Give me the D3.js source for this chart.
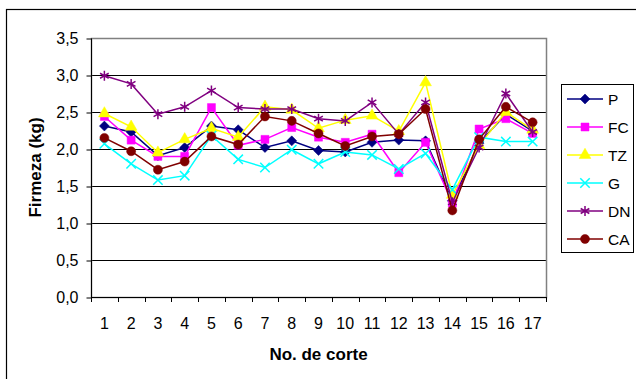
<!DOCTYPE html>
<html>
<head>
<meta charset="utf-8">
<script src="https://d3js.org/d3.v7.min.js"></script>
<style>
  body { margin: 0; background: #fff; }
  svg { display: block; font-family: "Liberation Sans", Arial, sans-serif; }
</style>
</head>
<body>
<svg width="636" height="379" class="line-chart"></svg>
<script>
  // categories and tick labels
  const cortes = ["1","2","3","4","5","6","7","8","9","10","11","12","13","14","15","16","17"];
  const yTicks = [0, 0.5, 1, 1.5, 2, 2.5, 3, 3.5];

  // series values (firmeza, kg)
  const P  = [2.31, 2.23, 1.91, 2.02, 2.31, 2.26, 2.02, 2.11, 1.98, 1.96, 2.09, 2.12, 2.11, 1.30, 2.08, 2.47, 2.24];
  const FC = [2.44, 2.12, 1.90, 1.90, 2.56, 2.05, 2.13, 2.29, 2.16, 2.09, 2.20, 1.68, 2.09, 1.27, 2.27, 2.41, 2.21];
  const TZ = [2.48, 2.30, 1.95, 2.13, 2.28, 2.16, 2.57, 2.53, 2.28, 2.39, 2.45, 2.24, 2.90, 1.38, 2.05, 2.50, 2.26];
  const G  = [2.07, 1.80, 1.58, 1.64, 2.18, 1.86, 1.75, 1.99, 1.80, 1.96, 1.92, 1.73, 1.94, 1.45, 2.16, 2.10, 2.10];
  const DN = [2.99, 2.88, 2.47, 2.57, 2.79, 2.56, 2.54, 2.54, 2.41, 2.38, 2.63, 2.20, 2.63, 1.28, 2.02, 2.75, 2.23];
  const CA = [2.15, 1.97, 1.72, 1.83, 2.17, 2.06, 2.44, 2.38, 2.21, 2.04, 2.17, 2.20, 2.54, 1.17, 2.13, 2.57, 2.36];

  const seriesNames = ["P", "FC", "TZ", "G", "DN", "CA"];
  const seriesValues = [P, FC, TZ, G, DN, CA];

  const colors = {P: "#000080", FC: "#ff00ff", TZ: "#ffff00", G: "#00ffff", DN: "#800080", CA: "#800000"};

  // excel-like diamond (square turned 45 degrees)
  const excelDiamond = {
    draw(context, size) {
      const r = Math.sqrt(size / 2);
      context.moveTo(0, -r);
      context.lineTo(r, 0);
      context.lineTo(0, r);
      context.lineTo(-r, 0);
      context.closePath();
    }
  };

  const shapes = {
    P:  {type: excelDiamond, size: 50, fill: true},
    FC: {type: d3.symbolSquare, size: 64, fill: true},
    TZ: {type: d3.symbolTriangle, size: 60, fill: true},
    G:  {type: d3.symbolTimes, size: 60, fill: false},
    DN: {type: d3.symbolAsterisk, size: 70, fill: false},
    CA: {type: d3.symbolCircle, size: 64, fill: true}
  };

  const svg = d3.select(".line-chart");

  // outer chart border
  svg.append("rect")
    .attr("x", 6.5).attr("y", 9.5)
    .attr("width", 640).attr("height", 380)
    .attr("fill", "#fff")
    .attr("stroke", "#000")
    .attr("stroke-width", 1.2);

  const plotLeft = 91, plotRight = 546, plotTop = 38, plotBottom = 297;

  const x = d3.scaleBand().domain(cortes).range([plotLeft, plotRight]);
  const y = d3.scaleLinear().domain([0, 3.5]).range([plotBottom, plotTop]);

  // gridlines
  svg.append("g")
    .selectAll("line")
    .data(yTicks.filter(d => d > 0 && d < 3.5))
    .enter().append("line")
    .attr("x1", plotLeft).attr("x2", plotRight)
    .attr("y1", d => Math.round(y(d)) + 0.5)
    .attr("y2", d => Math.round(y(d)) + 0.5)
    .attr("stroke", "#000")
    .attr("stroke-width", 1);

  // plot area border
  svg.append("rect")
    .attr("x", plotLeft + 0.5).attr("y", plotTop + 0.5)
    .attr("width", plotRight - plotLeft).attr("height", plotBottom - plotTop)
    .attr("fill", "none")
    .attr("stroke", "#808080")
    .attr("stroke-width", 1.5);

  // y axis
  const yAxis = svg.append("g")
    .attr("transform", "translate(" + (plotLeft + 0.5) + ",0.5)")
    .call(d3.axisLeft(y)
      .tickValues(yTicks)
      .tickSize(5)
      .tickPadding(8)
      .tickFormat(d => d3.format(".1f")(d).replace(".", ",")));
  yAxis.selectAll("path, line").attr("stroke", "#000");
  yAxis.select(".domain").attr("d", "M0," + plotTop + "V" + plotBottom);
  yAxis.selectAll("text").style("font-size", "16px").attr("fill", "#000");

  // x axis
  const xAxis = svg.append("g")
    .attr("transform", "translate(0," + (plotBottom + 0.5) + ")")
    .call(d3.axisBottom(x).tickSize(0).tickPadding(20));
  xAxis.select(".domain").attr("stroke", "#000").attr("d", "M" + plotLeft + ",0H" + plotRight);
  xAxis.selectAll("text").style("font-size", "16px").attr("fill", "#000");
  // tick marks between categories
  svg.append("g")
    .selectAll("line")
    .data(cortes.concat(["end"]))
    .enter().append("line")
    .attr("x1", (d, i) => Math.round(plotLeft + i * x.step()) + 0.5)
    .attr("x2", (d, i) => Math.round(plotLeft + i * x.step()) + 0.5)
    .attr("y1", plotBottom).attr("y2", plotBottom + 5)
    .attr("stroke", "#000");

  // axis titles
  svg.append("text")
    .attr("transform", "translate(41," + ((plotTop + plotBottom) / 2) + ") rotate(-90)")
    .attr("text-anchor", "middle")
    .style("font-size", "17px")
    .style("font-weight", "bold")
    .text("Firmeza (kg)");

  svg.append("text")
    .attr("x", (plotLeft + plotRight) / 2)
    .attr("y", 360)
    .attr("text-anchor", "middle")
    .style("font-size", "17px")
    .style("font-weight", "bold")
    .text("No. de corte");

  const line = d3.line()
    .x((d, i) => x(cortes[i]) + x.bandwidth() / 2)
    .y(d => y(d));

  const symbolPath = name => d3.symbol().type(shapes[name].type).size(shapes[name].size)();

  seriesNames.forEach((name, si) => {
    const vals = seriesValues[si];
    const g = svg.append("g");
    g.append("path")
      .datum(vals)
      .attr("d", line)
      .attr("fill", "none")
      .attr("stroke", colors[name])
      .attr("stroke-width", 1.5);
    g.selectAll("path.mk")
      .data(vals)
      .enter().append("path")
      .attr("class", "mk")
      .attr("transform", (d, i) => "translate(" + (x(cortes[i]) + x.bandwidth() / 2) + "," + y(d) + ")")
      .attr("d", symbolPath(name))
      .attr("fill", shapes[name].fill ? colors[name] : "none")
      .attr("stroke", colors[name])
      .attr("stroke-width", shapes[name].fill ? 0.5 : 1.5);
  });

  // legend
  const legend = svg.append("g");
  legend.append("rect")
    .attr("x", 561.5).attr("y", 84.5)
    .attr("width", 72).attr("height", 168)
    .attr("fill", "#fff")
    .attr("stroke", "#000")
    .attr("stroke-width", 1);

  seriesNames.forEach((name, i) => {
    const ly = 99 + i * 28;
    legend.append("line")
      .attr("x1", 567).attr("x2", 603)
      .attr("y1", ly).attr("y2", ly)
      .attr("stroke", colors[name])
      .attr("stroke-width", 1.5);
    legend.append("path")
      .attr("transform", "translate(585," + ly + ")")
      .attr("d", symbolPath(name))
      .attr("fill", shapes[name].fill ? colors[name] : "none")
      .attr("stroke", colors[name])
      .attr("stroke-width", shapes[name].fill ? 0.5 : 1.5);
    legend.append("text")
      .attr("x", 608)
      .attr("y", ly + 6)
      .style("font-size", "15.5px")
      .text(name);
  });
</script>
</body>
</html>
